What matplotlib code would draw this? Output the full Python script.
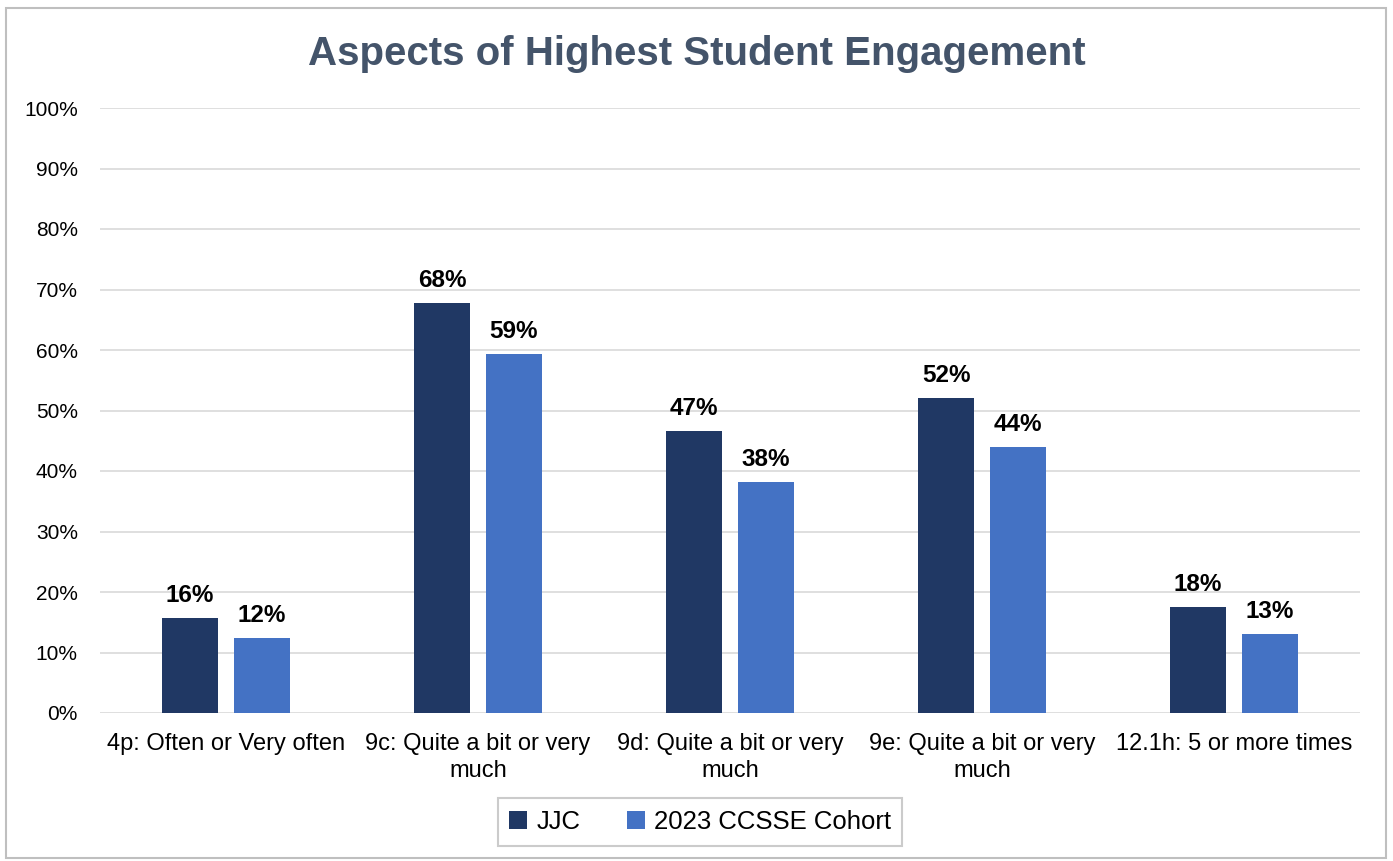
import matplotlib.pyplot as plt
import numpy as np
from matplotlib.patches import Rectangle
from matplotlib.ticker import PercentFormatter

plt.rcParams['font.family'] = ['Liberation Sans', 'DejaVu Sans']

categories = ['4p: Often or Very often', '9c: Quite a bit or very\nmuch',
              '9d: Quite a bit or very\nmuch', '9e: Quite a bit or very\nmuch',
              '12.1h: 5 or more times']
jjc = [15.7, 67.8, 46.6, 52.1, 17.5]
cohort = [12.4, 59.3, 38.2, 44.0, 13.0]
series_names = ['JJC', '2023 CCSSE Cohort']
colors = ['#203864', '#4472C4']

fig = plt.figure(figsize=(13.93, 8.61), dpi=100)
ax = fig.add_axes([100 / 1393, 1 - 713 / 861, 1260 / 1393, 605 / 861])

x = np.arange(len(categories))
w = 0.222
gap = 0.063
offs = (w + gap) / 2
for vals, off, c, name in zip([jjc, cohort], [-offs, offs], colors, series_names):
    bars = ax.bar(x + off, vals, width=w, color=c, label=name, zorder=3)
    for b, v in zip(bars, vals):
        ax.annotate(f'{v:.0f}%', (b.get_x() + b.get_width() / 2, v),
                    xytext=(0, 8), textcoords='offset points', ha='center',
                    va='bottom', fontsize=17.5, fontweight='bold')

ax.set_xlim(-0.5, len(categories) - 0.5)
ax.set_ylim(0, 100)
ax.set_yticks(range(0, 101, 10))
ax.yaxis.set_major_formatter(PercentFormatter(decimals=0))
ax.set_xticks(x)
ax.set_xticklabels(categories, fontsize=17, linespacing=1.3)
ax.tick_params(axis='both', length=0)
ax.tick_params(axis='x', pad=14.5)
ax.tick_params(axis='y', pad=16, labelsize=15)
ax.grid(axis='y', color='#D9D9D9', linewidth=1.2, zorder=0)
for s in ax.spines.values():
    s.set_visible(False)

fig.text(0.5, 1 - 54 / 861, 'Aspects of Highest Student Engagement',
         ha='center', va='center', fontsize=29, fontweight='bold', color='#44546A')

leg = ax.legend(loc='center', bbox_to_anchor=(700 / 1393, 1 - 822 / 861), bbox_transform=fig.transFigure,
                ncol=2, fontsize=18.5, frameon=True, fancybox=False, edgecolor='#BFBFBF',
                handlelength=0.7, handleheight=0.7, handletextpad=0.35, columnspacing=1.8,
                borderpad=0.45)
leg.get_frame().set_linewidth(1.5)

fig.patches.append(Rectangle((6 / 1393, 1 - 858 / 861), 1380 / 1393, 850 / 861,
                             transform=fig.transFigure, fill=False,
                             edgecolor='#BFBFBF', linewidth=1.5))

fig.savefig('out.png', dpi=100)
